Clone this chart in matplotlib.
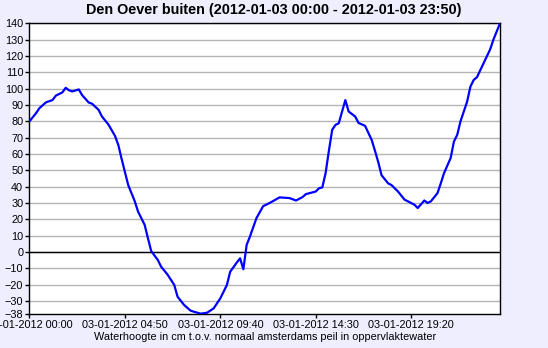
import matplotlib
matplotlib.use("Agg")
import matplotlib.pyplot as plt

# waterhoogte Den Oever buiten, 2012-01-03 (minuten na 00:00, cm NAP)
minutes = [0, 20, 30, 50, 70, 80, 100, 110, 120, 130, 150, 160, 180, 190, 210,
           220, 240, 260, 270, 280, 290, 300, 320, 330, 350, 360, 370, 390, 400,
           420, 440, 450, 470, 490, 520, 540, 560, 580, 600, 610, 630, 640, 650,
           660, 670, 690, 710, 730, 760, 790, 810, 830, 840, 870, 880, 890, 900,
           910, 920, 930, 940, 960, 970, 990, 1000, 1020, 1040, 1050, 1060, 1070,
           1090, 1100, 1120, 1140, 1150, 1170, 1180, 1200, 1210, 1220, 1240, 1250,
           1260, 1280, 1290, 1300, 1310, 1330, 1340, 1350, 1360, 1380, 1400, 1410,
           1430]
level = [80, 85, 88, 91.6, 93, 95.7, 97.7, 100.5, 99, 98.3, 99.5, 96, 91.5, 90.8, 87,
         83, 78, 71, 65.5, 57, 49, 41, 31, 24.7, 16.6, 8.4, 0.5, -4.9, -9,
         -14, -20.2, -27.4, -32.5, -36, -37.8, -37.2, -34.5, -28.4, -20.2, -12.1, -6.5, -3.9, -10.6,
         4.3, 9.4, 20.8, 28, 30, 33.4, 33, 31.5, 33.6, 35.4, 37, 39, 39.5, 48.3,
         62, 74.8, 77.8, 78.8, 93, 86, 82.9, 79, 77.2, 68.6, 62, 55, 47,
         42, 41, 37, 32, 31, 28.9, 26.9, 31.5, 30, 31, 36, 42,
         48.3, 57.5, 67.6, 71.7, 80, 92, 101.2, 105.3, 107, 115.5, 124, 130,
         140]

xtick_pos = [0, 290, 580, 870, 1160]
xtick_labels = ["03-01-2012 00:00", "03-01-2012 04:50", "03-01-2012 09:40",
                "03-01-2012 14:30", "03-01-2012 19:20"]
ytick_pos = [-38, -30, -20, -10, 0, 10, 20, 30, 40, 50, 60, 70, 80, 90, 100,
             110, 120, 130, 140]

plt.rcParams['font.family'] = ['Liberation Sans', 'DejaVu Sans']

fig = plt.figure(figsize=(5.48, 3.48), dpi=100, facecolor='#EEEEFF')
ax = fig.add_axes([0.0538, 0.0977, 0.8586, 0.8353])
ax.set_facecolor('white')

for y in range(-30, 141, 10):
    ax.axhline(y, color='#b4b4b4', lw=1, zorder=1)
ax.axhline(0, color='black', lw=1, zorder=2)

ax.plot(minutes, level, color='#0000ff', lw=1.6, zorder=3)

ax.set_xlim(0, 1430)
ax.set_ylim(-38, 140)
ax.set_xticks(xtick_pos)
ax.set_xticklabels(xtick_labels)
ax.set_yticks(ytick_pos)
ax.tick_params(labelsize=7.8, length=3, width=1, pad=1.5, colors='black')
for s in ax.spines.values():
    s.set_linewidth(1)
    s.set_color('black')

# titel staat in het midden van de hele figuur
fig.text(0.5, 0.97, "Den Oever buiten (2012-01-03 00:00 - 2012-01-03 23:50)",
         fontsize=10.4, fontweight='bold', ha='center', va='center')
ax.set_xlabel("Waterhoogte in cm t.o.v. normaal amsterdams peil in oppervlaktewater",
              fontsize=7.8, labelpad=1)

fig.savefig("out.png", dpi=100, facecolor=fig.get_facecolor())
